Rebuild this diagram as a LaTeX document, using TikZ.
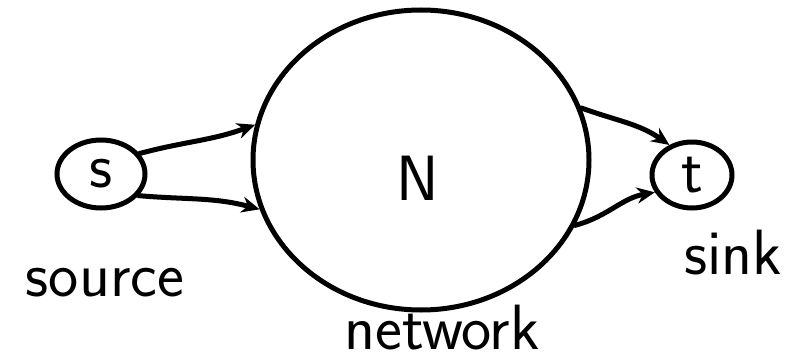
\documentclass[tikz,border=0pt]{standalone}
\usetikzlibrary{arrows.meta, shapes.geometric, positioning}
\tikzset{
  blob/.style={draw, ellipse, line width=5pt, inner sep=0pt},
  flow/.style={-{Stealth[length=18pt,width=16pt]}, line width=5pt, line cap=round},
  tag/.style={font=\fontsize{64}{68}\selectfont\sffamily}
}

\begin{document}
\begin{tikzpicture}[x=1pt,y=-1pt]
        \useasboundingbox (0,0) rectangle (812,364);
        % Source, network, sink
        \node[blob, minimum width=88pt, minimum height=68pt, tag] (s) at (101,174) {s};
        \node[blob, minimum width=336pt, minimum height=300pt] (N) at (421,160) {};
        \node[blob, minimum width=80pt, minimum height=66pt, tag] (t) at (692,175) {t};
        \node[tag] (Nlbl) at (418,178) {N};
        % Labels
        \node[tag] (source) at (105,283) {source};
        \node[tag] (network) at (442,328) {network};
        \node[tag] (sink) at (733,253) {sink};
        % Flow
        \draw[flow] (s.28) to[out=15, in=200] (N.168);
        \draw[flow] (s.-30) to[out=-5, in=165] (N.197);
        \draw[flow] (N.18) to[out=-20, in=145] (t.127);
        \draw[flow] (N.-23) to[out=15, in=190] (t.205);
\end{tikzpicture}
\end{document}
